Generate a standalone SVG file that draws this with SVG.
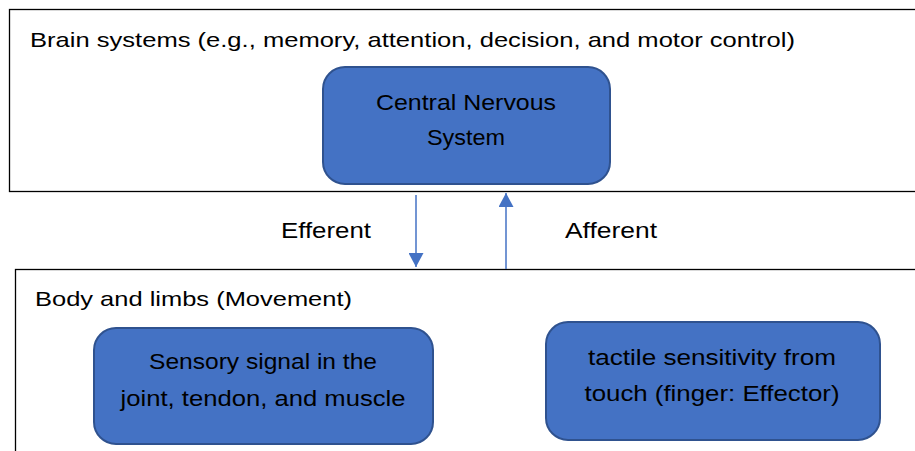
<svg xmlns="http://www.w3.org/2000/svg" width="915" height="451" viewBox="0 0 915 451">
<defs>
<style>
.frame{fill:#fff;stroke:#000;stroke-width:1.3}
.node{fill:#4472C4;stroke:#2F528F;stroke-width:2}
.t{font-family:"Liberation Sans",Arial,sans-serif;font-size:21px;fill:#000}
.n{font-size:22px}
.c{text-anchor:middle}
.conn{stroke:#4472C4;stroke-width:1.5;fill:none}
</style>
<marker id="ah" viewBox="0 0 10 10" refX="10" refY="5" markerWidth="14" markerHeight="15" markerUnits="userSpaceOnUse" orient="auto" preserveAspectRatio="none">
<path d="M0,0 L10,5 L0,10 Z" fill="#4472C4"/>
</marker>
</defs>
<rect width="915" height="451" fill="#fff"/>
<g id="brain-systems">
<rect class="frame" x="9.5" y="9.5" width="910" height="182"/>
<text class="t" x="30" y="47" textLength="765" lengthAdjust="spacingAndGlyphs">Brain systems (e.g., memory, attention, decision, and motor control)</text>
</g>
<g id="cns">
<rect class="node" x="323" y="67" width="287" height="117" rx="22"/>
<text class="t n c" x="466" y="110" textLength="180" lengthAdjust="spacingAndGlyphs">Central Nervous</text>
<text class="t n c" x="466" y="145" textLength="78" lengthAdjust="spacingAndGlyphs">System</text>
</g>
<g id="body-limbs">
<rect class="frame" x="15.5" y="269.5" width="910" height="200"/>
<text class="t" x="35" y="306" textLength="317" lengthAdjust="spacingAndGlyphs">Body and limbs (Movement)</text>
</g>
<g id="sensory">
<rect class="node" x="94" y="328" width="339" height="116" rx="22"/>
<text class="t n c" x="263" y="369" textLength="228" lengthAdjust="spacingAndGlyphs">Sensory signal in the</text>
<text class="t n c" x="263" y="406" textLength="285" lengthAdjust="spacingAndGlyphs">joint, tendon, and muscle</text>
</g>
<g id="tactile">
<rect class="node" x="546" y="322" width="334" height="118" rx="22"/>
<text class="t n c" x="712" y="365" textLength="248" lengthAdjust="spacingAndGlyphs">tactile sensitivity from</text>
<text class="t n c" x="712" y="401" textLength="255" lengthAdjust="spacingAndGlyphs">touch (finger: Effector)</text>
</g>
<g id="connectors">
<line class="conn" x1="416" y1="195" x2="416" y2="267" marker-end="url(#ah)"/>
<line class="conn" x1="506" y1="269" x2="506" y2="193" marker-end="url(#ah)"/>
<text class="t n" x="281" y="238" textLength="90" lengthAdjust="spacingAndGlyphs">Efferent</text>
<text class="t n" x="565" y="238" textLength="92" lengthAdjust="spacingAndGlyphs">Afferent</text>
</g>
</svg>
